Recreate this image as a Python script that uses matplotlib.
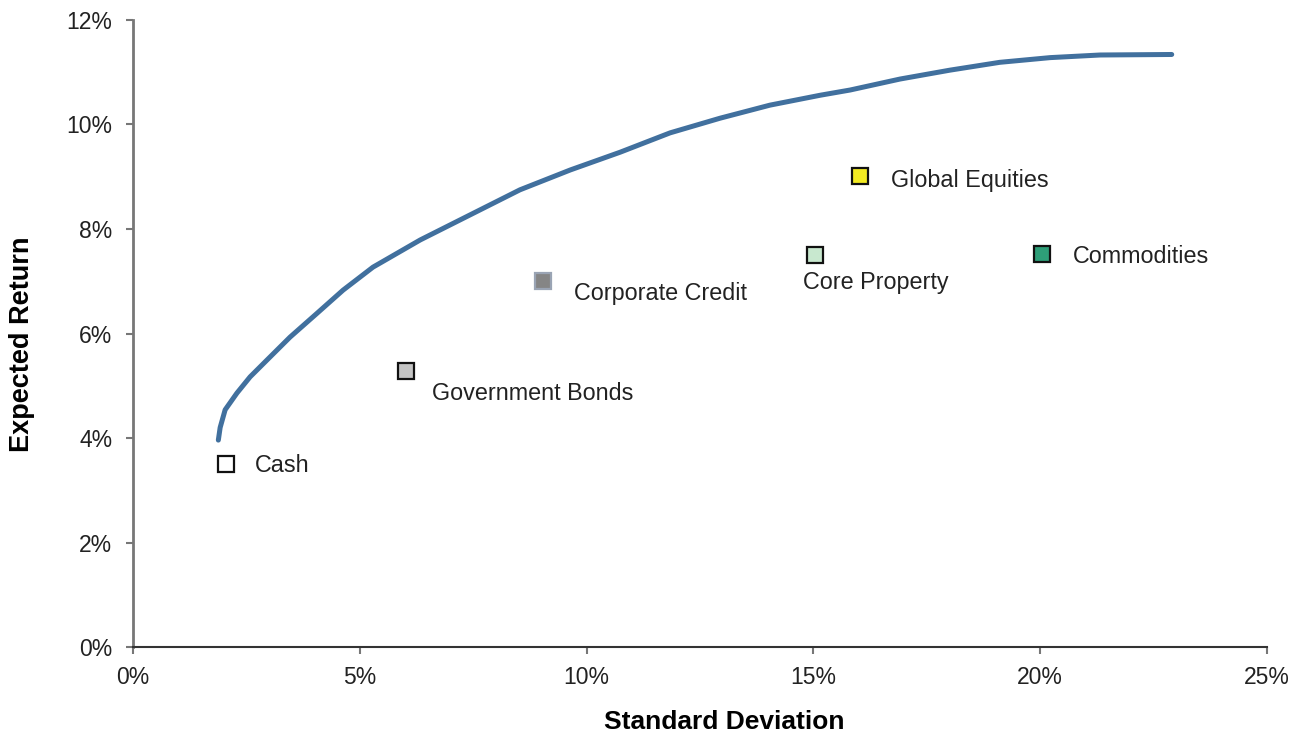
import matplotlib
matplotlib.use("Agg")
import matplotlib.pyplot as plt
from matplotlib.ticker import FuncFormatter

plt.rcParams['font.family'] = ['Liberation Sans', 'DejaVu Sans']

# efficient frontier (std dev %, expected return %)
frontier_sd = [1.88, 1.92, 2.03, 2.29, 2.58, 2.95, 3.46, 4.06, 4.63, 5.29, 5.95, 6.33, 7.43,
               8.53, 9.64, 10.74, 11.84, 12.94, 14.04, 15.15, 15.81, 16.91, 18.01, 19.11,
               20.22, 21.32, 22.9]
frontier_ret = [3.96, 4.2, 4.54, 4.86, 5.17, 5.49, 5.93, 6.39, 6.83, 7.27, 7.60, 7.79, 8.27,
                8.75, 9.13, 9.47, 9.84, 10.12, 10.37, 10.56, 10.66, 10.87, 11.04, 11.19,
                11.28, 11.33, 11.34]

assets = ["Cash", "Government Bonds", "Corporate Credit", "Global Equities", "Core Property", "Commodities"]
asset_sd = [2.05, 6.02, 9.04, 16.03, 15.04, 20.04]
asset_ret = [3.5, 5.28, 7.0, 9.01, 7.5, 7.52]
asset_colors = ["#ffffff", "#c4c4c4", "#858585", "#f2ea22", "#c8e8cf", "#2e9e78"]
asset_edges = ["#111111", "#111111", "#9aa4b4", "#111111", "#111111", "#111111"]
# label offsets in points
label_offsets = [(21, -1), (19, -16), (22, -9), (22, -3), (-9, -20), (22, -1.5)]

fig = plt.figure(figsize=(13.02, 7.35), dpi=100)
ax = fig.add_axes([0.1022, 0.1197, 0.8709, 0.8531])

ax.plot(frontier_sd, frontier_ret, color="#41709e", lw=3.6, solid_capstyle="round",
        solid_joinstyle="round", zorder=2)

for name, x, y, c, ec, off in zip(assets, asset_sd, asset_ret, asset_colors, asset_edges, label_offsets):
    ax.plot(x, y, marker="s", ms=11.5, mfc=c, mec=ec, mew=1.6, ls="none", zorder=3)
    ax.annotate(name, (x, y), xytext=off, textcoords="offset points",
                ha="left", va="center", fontsize=16.8, color="#222222")

ax.set_xlim(0, 25)
ax.set_ylim(0, 12)
ax.set_xticks(range(0, 26, 5))
ax.set_yticks(range(0, 13, 2))
pct = FuncFormatter(lambda v, p: f"{v:.0f}%")
ax.xaxis.set_major_formatter(pct)
ax.yaxis.set_major_formatter(pct)

for s in ["top", "right"]:
    ax.spines[s].set_visible(False)
ax.spines["left"].set_color("#777777")
ax.spines["left"].set_linewidth(2)
ax.spines["bottom"].set_color("#333333")
ax.spines["bottom"].set_linewidth(1.5)
ax.tick_params(axis="y", direction="out", length=5, width=1.5, color="#777777", labelsize=16.5, labelcolor="#222222", pad=10)
ax.tick_params(axis="x", direction="out", length=5, width=1.5, color="#777777", labelsize=16.5, labelcolor="#222222", pad=9)

ax.set_xlabel("Standard Deviation", fontsize=19, fontweight="bold", va="center")
ax.set_ylabel("Expected Return", fontsize=19.5, fontweight="bold", va="center")
ax.xaxis.set_label_coords(0.521, -0.12)
ax.yaxis.set_label_coords(-0.098, 0.483)

fig.savefig("out.png", dpi=100)
